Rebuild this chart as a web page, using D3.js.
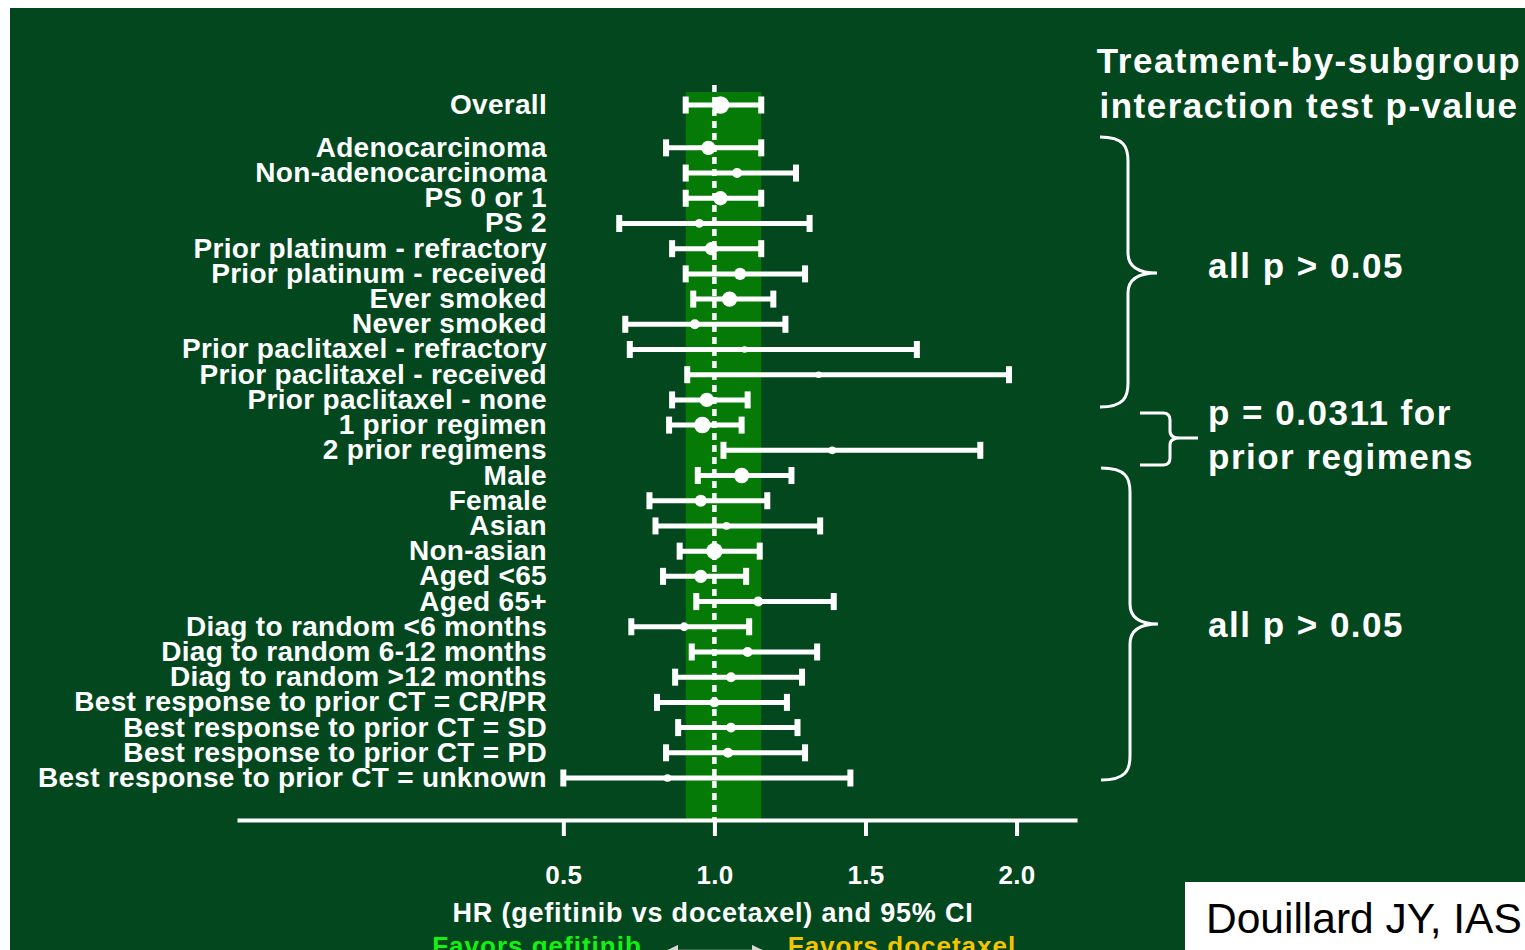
<!DOCTYPE html>
<html>
<head>
<meta charset="utf-8">
<script src="https://cdn.jsdelivr.net/npm/d3@7"></script>
<style>
  html, body { margin: 0; padding: 0; background: #ffffff; }
  svg { display: block; }
  text { font-family: "Liberation Sans", Arial, sans-serif; }
</style>
</head>
<body>
<svg id="chart" width="1525" height="950"></svg>
<script>
// Subgroup forest plot: hazard ratio (gefitinib vs docetaxel) with 95% CI
const subgroups = [
  "Overall",
  "Adenocarcinoma", "Non-adenocarcinoma",
  "PS 0 or 1", "PS 2",
  "Prior platinum - refractory", "Prior platinum - received",
  "Ever smoked", "Never smoked",
  "Prior paclitaxel - refractory", "Prior paclitaxel - received", "Prior paclitaxel - none",
  "1 prior regimen", "2 prior regimens",
  "Male", "Female",
  "Asian", "Non-asian",
  "Aged <65", "Aged 65+",
  "Diag to random <6 months", "Diag to random 6-12 months", "Diag to random >12 months",
  "Best response to prior CT = CR/PR", "Best response to prior CT = SD",
  "Best response to prior CT = PD", "Best response to prior CT = unknown"
];
const hr     = [1.02, 0.98, 1.075, 1.02, 0.95, 0.99, 1.085, 1.05, 0.935, 1.10, 1.345, 0.975, 0.96, 1.39,
                1.09, 0.955, 1.04, 1.00, 0.955, 1.145, 0.90, 1.11, 1.055, 1.00, 1.055, 1.045, 0.845];
const ciLow  = [0.905, 0.84, 0.905, 0.905, 0.685, 0.86, 0.905, 0.93, 0.705, 0.72, 0.91, 0.86, 0.85, 1.03,
                0.945, 0.785, 0.805, 0.885, 0.83, 0.94, 0.725, 0.925, 0.87, 0.81, 0.88, 0.84, 0.50];
const ciHigh = [1.155, 1.155, 1.27, 1.155, 1.315, 1.155, 1.30, 1.195, 1.235, 1.67, 1.975, 1.11, 1.09, 1.88,
                1.255, 1.175, 1.35, 1.15, 1.105, 1.395, 1.115, 1.34, 1.29, 1.24, 1.275, 1.30, 1.45];
// relative marker area of each estimate
const weight = [1466, 968, 464, 968, 366, 824, 693, 1122, 464, 206, 206, 968, 1288, 281,
                1122, 693, 281, 1288, 824, 464, 366, 464, 464, 464, 464, 464, 281];
const tickValues = [0.5, 1.0, 1.5, 2.0];
const axisTitle = "HR (gefitinib vs docetaxel) and 95% CI";
const favorsLeft = "Favors gefitinib";
const favorsRight = "Favors docetaxel";
const headerLines = ["Treatment-by-subgroup", "interaction test p-value"];
const pGroups = ["all p > 0.05", "p = 0.0311 for", "prior regimens", "all p > 0.05"];
const credit = "Douillard JY, IAS";

const W = 1525, H = 950;
const BG = "#03471f", BAND = "#067a06";
const svg = d3.select("#chart");

svg.append("rect").attr("width", W).attr("height", H).attr("fill", "#ffffff");
svg.append("rect").attr("x", 10).attr("y", 8).attr("width", W - 10).attr("height", H - 8).attr("fill", BG);

const rows = subgroups.map((name, i) => ({
  name, hr: hr[i], lo: ciLow[i], hi: ciHigh[i], w: weight[i],
  pos: i === 0 ? 0 : i + 0.7
}));

const x = d3.scaleLinear().domain([-0.58, 2.2]).range([237, 1077]);
const y = d3.scaleLinear().domain([0, 26.7]).range([105, 778]);
const r = d3.scaleSqrt().domain([0, 1466]).range([0, 8.8]);
const axisY = 820;

// shaded band = CI of the overall estimate
svg.append("rect")
  .attr("x", x(rows[0].lo)).attr("y", 92)
  .attr("width", x(rows[0].hi) - x(rows[0].lo))
  .attr("height", axisY - 92)
  .attr("fill", BAND);

// line of no effect
svg.append("line")
  .attr("x1", x(1)).attr("x2", x(1)).attr("y1", 85).attr("y2", axisY)
  .attr("stroke", "#ffffff").attr("stroke-width", 4.5)
  .attr("stroke-dasharray", "7 5");

// axis
const axis = d3.axisBottom(x)
  .tickValues(tickValues)
  .tickFormat(d3.format(".1f"))
  .tickSize(16).tickSizeOuter(0).tickPadding(30);
const gAxis = svg.append("g").attr("transform", `translate(0,${axisY})`).call(axis);
gAxis.select(".domain").attr("stroke", "#ffffff").attr("stroke-width", 4);
gAxis.selectAll(".tick line").attr("stroke", "#ffffff").attr("stroke-width", 4);
gAxis.selectAll(".tick text")
  .attr("fill", "#ffffff").attr("font-size", 26).attr("font-weight", "bold")
  .attr("font-family", "Liberation Sans, Arial, sans-serif").attr("letter-spacing", 0.3);

// CI whiskers, caps and estimates
const g = svg.append("g");
const row = g.selectAll("g.row").data(rows).join("g").attr("class", "row");
row.append("line")
  .attr("x1", d => x(d.lo)).attr("x2", d => x(d.hi))
  .attr("y1", d => y(d.pos)).attr("y2", d => y(d.pos))
  .attr("stroke", "#ffffff").attr("stroke-width", 5);
["lo", "hi"].forEach(k => {
  row.append("rect")
    .attr("x", d => x(d[k]) - 3).attr("y", d => y(d.pos) - 8.5)
    .attr("width", 6).attr("height", 17)
    .attr("fill", "#ffffff");
});
row.append("circle")
  .attr("cx", d => x(d.hr)).attr("cy", d => y(d.pos))
  .attr("r", d => r(d.w))
  .attr("fill", "#ffffff");

// subgroup labels
row.append("text")
  .attr("x", 547).attr("y", d => y(d.pos) + 9)
  .attr("text-anchor", "end")
  .attr("fill", "#ffffff").attr("font-size", 28).attr("font-weight", "bold")
  .attr("letter-spacing", 0.3)
  .text(d => d.name);

// axis title and direction labels
svg.append("text").attr("x", 713).attr("y", 922).attr("text-anchor", "middle")
  .attr("fill", "#ffffff").attr("font-size", 27).attr("font-weight", "bold").attr("letter-spacing", 0.8)
  .text(axisTitle);
svg.append("text").attr("x", 537).attr("y", 955).attr("text-anchor", "middle")
  .attr("fill", "#14f014").attr("font-size", 26).attr("font-weight", "bold").attr("letter-spacing", 1)
  .text(favorsLeft);
svg.append("text").attr("x", 902).attr("y", 955).attr("text-anchor", "middle")
  .attr("fill", "#f5c400").attr("font-size", 26).attr("font-weight", "bold").attr("letter-spacing", 1)
  .text(favorsRight);
const defs = svg.append("defs");
defs.append("marker").attr("id", "ah").attr("viewBox", "0 0 10 10")
  .attr("refX", 9).attr("refY", 5).attr("markerWidth", 5).attr("markerHeight", 5)
  .attr("orient", "auto-start-reverse")
  .append("path").attr("d", "M0,0 L10,5 L0,10 z").attr("fill", "#d8d8d8");
svg.append("line").attr("x1", 667).attr("x2", 763).attr("y1", 951).attr("y2", 951)
  .attr("stroke", "#d8d8d8").attr("stroke-width", 2.5)
  .attr("marker-start", "url(#ah)").attr("marker-end", "url(#ah)");

// interaction test annotations
const headFont = { size: 35, ls: 1.5 };
headerLines.forEach((t, i) => {
  svg.append("text").attr("x", 1309).attr("y", 73 + i * 45).attr("text-anchor", "middle")
    .attr("fill", "#ffffff").attr("font-size", headFont.size).attr("font-weight", "bold")
    .attr("letter-spacing", headFont.ls).text(t);
});
const pY = [278, 425, 469, 637];
pGroups.forEach((t, i) => {
  svg.append("text").attr("x", 1208).attr("y", pY[i])
    .attr("fill", "#ffffff").attr("font-size", headFont.size).attr("font-weight", "bold")
    .attr("letter-spacing", headFont.ls).text(t);
});

function curlyBrace(x0, xm, xt, y0, ym, y1) {
  const p = d3.path();
  p.moveTo(x0, y0);
  p.bezierCurveTo(xm - 4, y0, xm, y0 + 10, xm, y0 + 24);
  p.lineTo(xm, ym - 20);
  p.bezierCurveTo(xm, ym - 6, xt - 18, ym, xt, ym);
  p.bezierCurveTo(xt - 18, ym, xm, ym + 6, xm, ym + 20);
  p.lineTo(xm, y1 - 24);
  p.bezierCurveTo(xm, y1 - 10, xm - 4, y1, x0, y1);
  return p.toString();
}
const braceStyle = sel => sel.attr("fill", "none").attr("stroke", "#ffffff").attr("stroke-width", 3);
svg.append("path").attr("d", curlyBrace(1100, 1128, 1157, 137, 273, 407)).call(braceStyle);
svg.append("path").attr("d", curlyBrace(1101, 1130, 1158, 468, 624, 780)).call(braceStyle);
// small square brace for the prior-regimen pair
const sb = d3.path();
sb.moveTo(1140, 413); sb.lineTo(1163, 413);
sb.quadraticCurveTo(1170, 413, 1170, 420); sb.lineTo(1170, 431);
sb.quadraticCurveTo(1170, 438, 1180, 438); sb.lineTo(1198, 438);
sb.moveTo(1180, 438);
sb.quadraticCurveTo(1170, 438, 1170, 445); sb.lineTo(1170, 458);
sb.quadraticCurveTo(1170, 465, 1163, 465); sb.lineTo(1140, 465);
svg.append("path").attr("d", sb.toString()).call(braceStyle);

// source box
svg.append("rect").attr("x", 1185).attr("y", 882).attr("width", W - 1185).attr("height", H - 882)
  .attr("fill", "#ffffff");
svg.append("text").attr("x", 1206).attr("y", 933)
  .attr("fill", "#000000").attr("font-size", 42.5).text(credit);
</script>
</body>
</html>
